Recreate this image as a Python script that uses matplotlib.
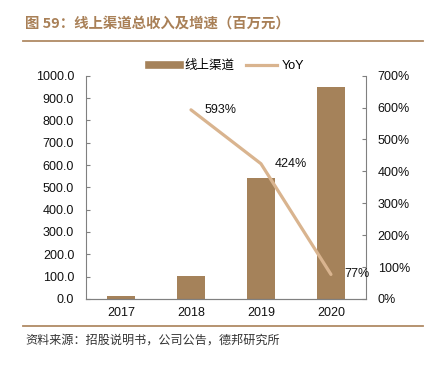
import matplotlib
matplotlib.use('Agg')
import matplotlib.pyplot as plt
from matplotlib.lines import Line2D

plt.rcParams['font.family'] = ['Liberation Sans', 'Noto Sans CJK SC', 'DejaVu Sans']

# data
years = ['2017', '2018', '2019', '2020']
revenue = [14.5, 101.0, 541.0, 950.0]          # 百万元
yoy_years = [1, 2, 3]
yoy = [593, 424, 77]                           # %
yoy_labels = ['593%', '424%', '77%']

bar_color = '#A5825A'
line_color = '#D9B48F'
brown = '#A98057'
tick_grey = '#808080'

fig = plt.figure(figsize=(4.29, 3.8), dpi=100)
ax = fig.add_axes([0.2005, 0.2132, 0.6525, 0.5876])
ax2 = ax.twinx()

x = range(len(years))
ax.bar(x, revenue, width=0.4, color=bar_color, zorder=2)
ax.set_xlim(-0.5, 3.5)
ax.set_ylim(0, 1000)
ax.set_yticks(range(0, 1001, 100))
ax.set_yticklabels([f'{v:.1f}' for v in range(0, 1001, 100)])
ax.set_xticks(list(x))
ax.set_xticklabels(years)

ax2.plot(yoy_years, yoy, color=line_color, lw=2.3, solid_capstyle='round', zorder=3)
ax2.set_ylim(0, 700)
ax2.set_yticks(range(0, 701, 100))
ax2.set_yticklabels([f'{v}%' for v in range(0, 701, 100)])
for xi, yi, lab in zip(yoy_years, yoy, yoy_labels):
    ax2.annotate(lab, (xi, yi), xytext=(10, 0), textcoords='offset points',
                 va='center', ha='left', fontsize=9, color='#111111')

for a in (ax, ax2):
    a.spines['top'].set_visible(False)
    a.spines['left'].set_color(tick_grey)
    a.spines['right'].set_color(tick_grey)
    a.spines['bottom'].set_color(tick_grey)
    a.tick_params(colors=tick_grey, labelcolor='#111111', labelsize=9,
                  direction='in', length=3, width=0.8, pad=8.5)
ax.tick_params(axis='x', length=0, pad=6)
ax.spines['right'].set_visible(False)
ax2.spines['left'].set_visible(False)
ax.set_zorder(ax2.get_zorder() - 1)
ax.patch.set_visible(False)

# legend
handles = [Line2D([], [], color=bar_color, lw=5.5),
           Line2D([], [], color=line_color, lw=2.3)]
fig.legend(handles, ['线上渠道', 'YoY'], loc='center', bbox_to_anchor=(0.528, 0.826),
           ncol=2, frameon=False, fontsize=9, handlelength=2.5, columnspacing=0.9,
           handletextpad=0.35)

# title and source
fig.text(0.058, 0.937, '图 59：线上渠道总收入及增速（百万元）', fontsize=10.4,
         fontweight='bold', color=brown, va='center', ha='left',
         family=['Noto Sans CJK SC', 'DejaVu Sans'])
fig.add_artist(Line2D([0.054, 0.986], [0.893, 0.893], color='#B08A64', lw=1.3))
fig.add_artist(Line2D([0.054, 0.986], [0.143, 0.143], color='#B08A64', lw=1.3))
fig.text(0.058, 0.105, '资料来源：招股说明书，公司公告，德邦研究所', fontsize=8.7,
         color='#333333', va='center', ha='left',
         family=['Noto Sans CJK SC', 'DejaVu Sans'])

fig.savefig('out.png', dpi=100)
